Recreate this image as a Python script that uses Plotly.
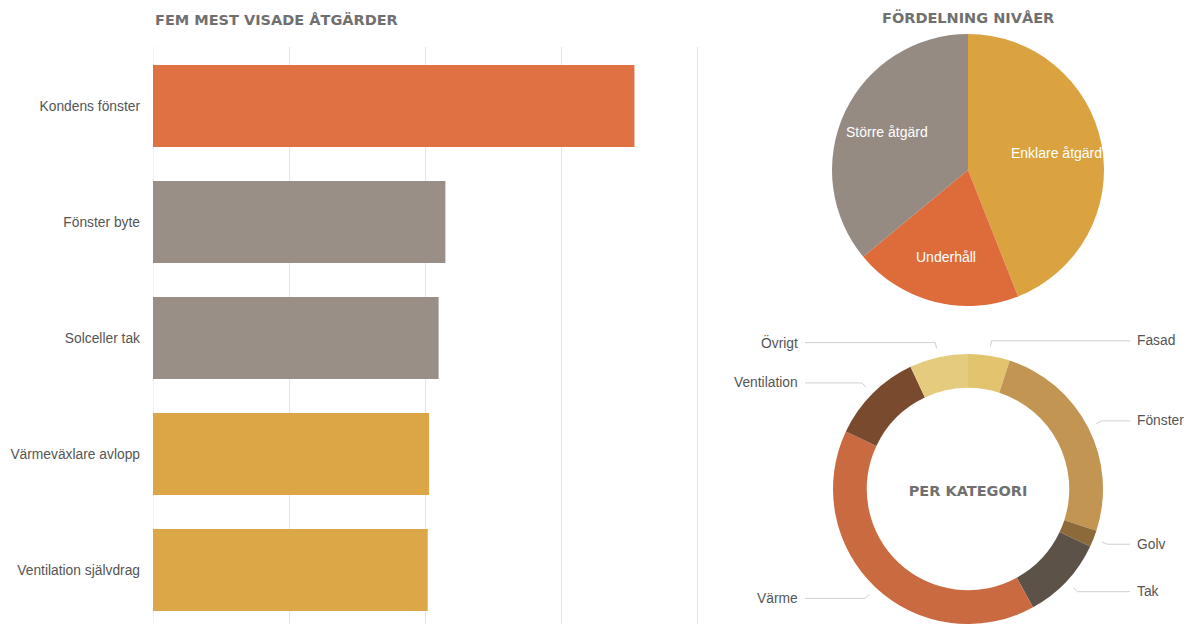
import math
import plotly.graph_objects as go

# ---------------- data ----------------
bar_labels = ["Kondens fönster", "Fönster byte", "Solceller tak",
              "Värmeväxlare avlopp", "Ventilation självdrag"]
bar_values = [354, 215, 210, 203, 202]
bar_colors = ["#DE6C3B", "#958B83", "#958B83", "#DBA340", "#DBA340"]

level_labels = ["Enklare åtgärd", "Underhåll", "Större åtgärd"]
level_values = [44, 20, 36]
level_colors = ["#DBA340", "#DE6C3B", "#958B83"]

cat_labels = ["Fasad", "Fönster", "Golv", "Tak", "Värme", "Ventilation", "Övrigt"]
cat_values = [5, 25, 2, 10, 40, 11, 7]
cat_colors = ["#E2C46F", "#C29552", "#8C6A3A", "#5C5248", "#C96A40", "#7A4A2F", "#E5CB7D"]

# page body margin is removed in post_script, so figure pixels == page pixels
W, H = 1188, 624


def xp(rx):
    return rx / W


def yp(ry):
    return 1 - ry / H


TITLE_FONT = dict(family="DejaVu Sans", size=14.5, color="#707070", weight="bold")
LABEL_FONT = dict(family="Liberation Sans", size=13.8, color="#555555")

fig = go.Figure()

# ---------------- bar chart ----------------
fig.add_trace(go.Bar(
    y=bar_labels, x=bar_values, orientation="h",
    marker=dict(color=bar_colors, line=dict(width=0)),
    opacity=0.96, width=0.707, hoverinfo="x+y",
    xaxis="x", yaxis="y",
))

# ---------------- level pie ----------------
p_x0, p_x1, p_top, p_bot = 832, 1104, 34, 306
fig.add_trace(go.Pie(
    labels=level_labels, values=level_values, sort=False,
    direction="clockwise", rotation=0,
    marker=dict(colors=level_colors, line=dict(width=0)),
    textinfo="none",
    domain=dict(x=[xp(p_x0), xp(p_x1)], y=[yp(p_bot), yp(p_top)]),
    showlegend=False,
))

annotations = []
pcx = (p_x0 + p_x1) / 2
pR = min(p_x1 - p_x0, p_bot - p_top) / 2
pcy = p_top + pR
ptotal = sum(level_values)
cum = 0
for lab, v in zip(level_labels, level_values):
    mid = (cum + v / 2) / ptotal * 2 * math.pi
    cum += v
    tx, ty = pcx + 0.66 * pR * math.sin(mid), pcy - 0.66 * pR * math.cos(mid)
    annotations.append(dict(
        x=tx, y=ty, xref="x2", yref="y2", text=lab, showarrow=False,
        xanchor="center", yanchor="middle",
        font=dict(family="Liberation Sans", size=14, color="white"),
    ))

# ---------------- category donut ----------------
d_x0, d_x1, d_top, d_bot = 833, 1103, 354, 624
fig.add_trace(go.Pie(
    labels=cat_labels, values=cat_values, sort=False,
    direction="clockwise", rotation=0, hole=0.75,
    marker=dict(colors=cat_colors, line=dict(width=0)),
    textinfo="none",
    title=dict(text="PER KATEGORI", position="middle center", font=TITLE_FONT),
    domain=dict(x=[xp(d_x0), xp(d_x1)], y=[max(0, yp(d_bot)), yp(d_top)]),
    showlegend=False,
))

# leader lines + labels for the donut, derived from the slice angles
cx = (d_x0 + d_x1) / 2
R = min(d_x1 - d_x0, d_bot - d_top) / 2
cy = d_top + R
r1, r2 = R + 9, R + 15
left_text_x, left_line_x = 800, 805
right_text_x, right_line_x = 1135, 1130

total = sum(cat_values)
cum = 0
lx, ly = [], []
for lab, v in zip(cat_labels, cat_values):
    mid = (cum + v / 2) / total * 2 * math.pi
    cum += v
    ax_, ay_ = cx + r1 * math.sin(mid), cy - r1 * math.cos(mid)
    ex, ey = cx + r2 * math.sin(mid), cy - r2 * math.cos(mid)
    right = math.sin(mid) >= 0
    endx = right_line_x if right else left_line_x
    lx += [ax_, ex, endx, None]
    ly += [ay_, ey, ey, None]
    annotations.append(dict(
        x=right_text_x if right else left_text_x, y=ey, xref="x2", yref="y2",
        text=lab, showarrow=False, xanchor="left" if right else "right",
        yanchor="middle", font=LABEL_FONT,
    ))

fig.add_trace(go.Scatter(
    x=lx, y=ly, mode="lines", line=dict(color="#cfcfcf", width=1),
    hoverinfo="skip", showlegend=False, xaxis="x2", yaxis="y2",
))

# titles
annotations.append(dict(x=xp(153), y=yp(20), xref="paper", yref="paper",
                        text="FEM MEST VISADE ÅTGÄRDER", showarrow=False,
                        xanchor="left", yanchor="middle", font=TITLE_FONT))
annotations.append(dict(x=xp(968), y=yp(17), xref="paper", yref="paper",
                        text="FÖRDELNING NIVÅER", showarrow=False,
                        xanchor="center", yanchor="middle", font=TITLE_FONT))

px_per_unit = (697 - 153) / 400
fig.update_layout(
    width=W, height=H,
    margin=dict(l=0, r=0, t=0, b=0),
    paper_bgcolor="white", plot_bgcolor="rgba(0,0,0,0)",
    showlegend=False,
    annotations=annotations,
    xaxis=dict(domain=[xp(153), xp(699)], range=[0, 400 + 2 / px_per_unit],
               dtick=100, showticklabels=False, showgrid=True,
               gridcolor="#e3e3e3", gridwidth=1, zeroline=True,
               zerolinecolor="#eeeeee", zerolinewidth=1, showline=False,
               fixedrange=True, anchor="y"),
    yaxis=dict(domain=[0, yp(47)], type="category",
               categoryarray=bar_labels, range=[4.466, -0.509],
               showgrid=False, zeroline=False, showline=False,
               ticks="", ticklabelstandoff=12, tickfont=LABEL_FONT,
               fixedrange=True, anchor="x"),
    xaxis2=dict(domain=[0, 1], range=[0, W], visible=False, fixedrange=True,
                anchor="y2"),
    yaxis2=dict(domain=[0, 1], range=[H, 0], visible=False, fixedrange=True,
                anchor="x2"),
)

fig.write_html(
    "out.html",
    config={"displayModeBar": False},
    post_script="document.body.style.margin='0';document.body.style.overflow='hidden';",
)
